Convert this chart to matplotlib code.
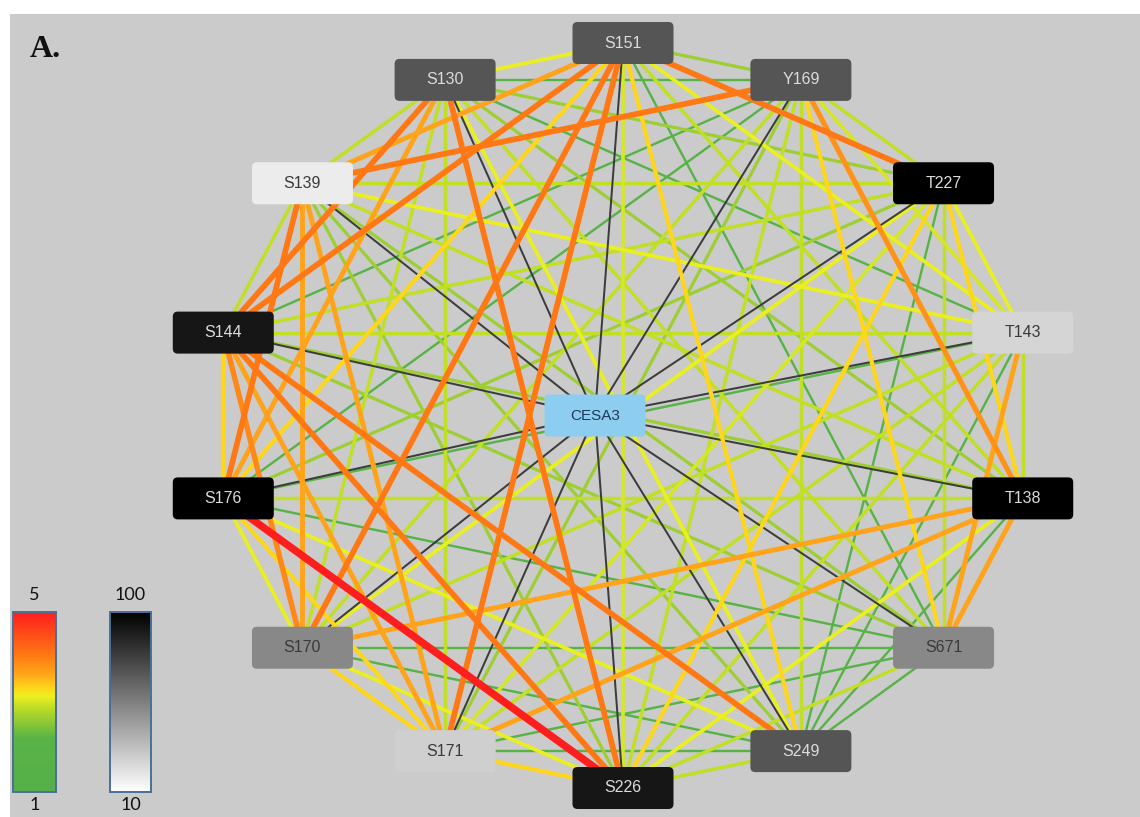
import numpy as np
import matplotlib
matplotlib.use('Agg')
import matplotlib.pyplot as plt
from matplotlib.colors import LinearSegmentedColormap
from matplotlib.patches import FancyBboxPatch, Rectangle

# ring nodes, clockwise from the top
NODES = ['S151', 'Y169', 'T227', 'T143', 'T138', 'S671', 'S249',
         'S226', 'S171', 'S170', 'S176', 'S144', 'S139', 'S130']
# node shade on the 10..100 scale
NODE_VAL = [70, 70, 100, 25, 100, 52, 70, 92, 27, 52, 100, 92, 17, 70]
HUB = 'CESA3'

# edge weights on the 1..5 scale
EDGES = [
    ('S151', 'Y169', 2.65), ('S151', 'T227', 4.05), ('S151', 'T143', 3.1),
    ('S151', 'T138', 2.9), ('S151', 'S671', 1.8), ('S151', 'S249', 3.3),
    ('S151', 'S226', 3.0), ('S151', 'S171', 4.05), ('S151', 'S170', 4.05),
    ('S151', 'S176', 3.3), ('S151', 'S144', 4.05), ('S151', 'S139', 3.65),
    ('S151', 'S130', 3.1),
    ('Y169', 'T227', 2.9), ('Y169', 'T143', 3.0), ('Y169', 'T138', 3.8),
    ('Y169', 'S671', 3.3), ('Y169', 'S249', 2.9), ('Y169', 'S226', 2.9),
    ('Y169', 'S171', 2.65), ('Y169', 'S170', 2.9), ('Y169', 'S176', 1.8),
    ('Y169', 'S144', 1.8), ('Y169', 'S139', 4.05), ('Y169', 'S130', 1.8),
    ('T227', 'T143', 3.1), ('T227', 'T138', 3.3), ('T227', 'S671', 2.9),
    ('T227', 'S249', 1.8), ('T227', 'S226', 3.3), ('T227', 'S171', 3.0),
    ('T227', 'S170', 3.1), ('T227', 'S176', 2.65), ('T227', 'S144', 2.9),
    ('T227', 'S139', 2.9), ('T227', 'S130', 2.65),
    ('T143', 'T138', 2.9), ('T143', 'S671', 3.65), ('T143', 'S249', 1.8),
    ('T143', 'S226', 2.9), ('T143', 'S171', 2.9), ('T143', 'S170', 2.9),
    ('T143', 'S176', 1.8), ('T143', 'S144', 2.9), ('T143', 'S139', 3.1),
    ('T143', 'S130', 1.8),
    ('T138', 'S671', 3.65), ('T138', 'S249', 1.8), ('T138', 'S226', 3.1),
    ('T138', 'S171', 3.65), ('T138', 'S170', 3.65), ('T138', 'S176', 2.9),
    ('T138', 'S144', 2.65), ('T138', 'S139', 2.9), ('T138', 'S130', 2.65),
    ('S671', 'S249', 1.8), ('S671', 'S226', 2.9), ('S671', 'S171', 1.8),
    ('S671', 'S170', 1.8), ('S671', 'S176', 1.8), ('S671', 'S144', 2.65),
    ('S671', 'S139', 2.65), ('S671', 'S130', 2.9),
    ('S249', 'S226', 2.9), ('S249', 'S171', 1.8), ('S249', 'S170', 1.8),
    ('S249', 'S176', 3.1), ('S249', 'S144', 4.05), ('S249', 'S139', 2.65),
    ('S249', 'S130', 3.1),
    ('S226', 'S171', 3.3), ('S226', 'S170', 3.1), ('S226', 'S176', 5.0),
    ('S226', 'S144', 4.05), ('S226', 'S139', 2.65), ('S226', 'S130', 4.05),
    ('S171', 'S170', 3.3), ('S171', 'S176', 3.3), ('S171', 'S144', 3.65),
    ('S171', 'S139', 3.65), ('S171', 'S130', 2.9),
    ('S170', 'S176', 3.1), ('S170', 'S144', 3.9), ('S170', 'S139', 3.65),
    ('S170', 'S130', 2.9),
    ('S176', 'S144', 3.3), ('S176', 'S139', 4.05), ('S176', 'S130', 3.65),
    ('S144', 'S139', 2.9), ('S144', 'S130', 4.05),
    ('S139', 'S130', 2.9),
]

EDGE_RANGE = (1, 5)
SHADE_RANGE = (10, 100)

edge_cmap = LinearSegmentedColormap.from_list('edge', [
    (0.00, '#55b04a'), (0.30, '#5ab446'), (0.42, '#a2d030'),
    (0.48, '#c4e024'), (0.53, '#eef022'), (0.58, '#ffd41a'),
    (0.66, '#ffa41a'), (0.76, '#ff7a14'), (1.00, '#ff1e1e')])
shade_cmap = LinearSegmentedColormap.from_list('shade', ['#ffffff', '#000000'])

W, H = 1140, 817
PX = 72 / 100  # points per pixel at dpi 100

fig = plt.figure(figsize=(W / 100, H / 100), dpi=100)
ax = fig.add_axes([0, 0, 1, 1])
ax.set_xlim(0, W)
ax.set_ylim(H, 0)
ax.axis('off')
ax.add_patch(Rectangle((10, 14), W - 10, H - 14, facecolor='#cbcbcb',
                       edgecolor='none', zorder=0))

# elliptical ring layout
cx, cy, rx, ry = 623, 415.5, 410, 372.5
ang = np.pi / 2 - np.arange(len(NODES)) * 2 * np.pi / len(NODES)
pos = {n: (cx + rx * np.cos(a), cy - ry * np.sin(a)) for n, a in zip(NODES, ang)}
hub_xy = (cx - 28, cy)


def edge_width(v):
    return np.interp(v, [1, 2, 3, 4, 5], [2.0, 2.5, 3.6, 5.6, 7.5]) * PX


def norm(v, lo_hi):
    lo, hi = lo_hi
    return (v - lo) / (hi - lo)


for a, b, v in sorted(EDGES, key=lambda e: e[2]):
    (x0, y0), (x1, y1) = pos[a], pos[b]
    ax.plot([x0, x1], [y0, y1], color=edge_cmap(norm(v, EDGE_RANGE)),
            lw=edge_width(v), solid_capstyle='butt', zorder=2 + v / 10)

for n in NODES:
    x, y = pos[n]
    ax.plot([hub_xy[0], x], [hub_xy[1], y], color='#3c3c3c', lw=2.0 * PX,
            zorder=2.31)

bw, bh = 101, 42
for n, v in zip(NODES, NODE_VAL):
    x, y = pos[n]
    ax.add_patch(FancyBboxPatch((x - bw / 2, y - bh / 2), bw, bh,
                                boxstyle='round,pad=0,rounding_size=5',
                                facecolor=shade_cmap(norm(v, SHADE_RANGE)),
                                edgecolor='none', zorder=5))
    ax.text(x, y, n, ha='center', va='center', fontsize=11.5,
            family='Liberation Sans',
            color='#dcdcdc' if v >= 60 else '#3a3a3a', zorder=6)

ax.add_patch(FancyBboxPatch((hub_xy[0] - bw / 2, hub_xy[1] - bh / 2), bw, bh,
                            boxstyle='round,pad=0,rounding_size=4',
                            facecolor='#8ccdf0', edgecolor='none', zorder=5))
ax.text(hub_xy[0], hub_xy[1], HUB, ha='center', va='center', fontsize=11,
        family='Liberation Sans', color='#1d3a58', zorder=6)

# colour keys
grad = np.linspace(1, 0, 256).reshape(-1, 1)
for (x0, x1), cmap, (top, bot) in [((13, 56), edge_cmap, EDGE_RANGE[::-1]),
                                   ((110, 151), shade_cmap, SHADE_RANGE[::-1])]:
    ax.imshow(grad, cmap=cmap, aspect='auto', extent=[x0, x1, 792, 612],
              zorder=3, interpolation='bilinear')
    ax.add_patch(Rectangle((x0, 612), x1 - x0, 180, facecolor='none',
                           edgecolor='#4a6f98', lw=1.4, zorder=4))
    xm = (x0 + x1) / 2
    ax.text(xm, 603, str(top), ha='center', va='bottom', fontsize=13,
            family='Lato', color='#111111')
    ax.text(xm, 797, str(bot), ha='center', va='top', fontsize=13,
            family='Lato', color='#111111')

ax.text(30, 57, 'A.', ha='left', va='baseline', fontsize=23,
        family='Liberation Serif', fontweight='bold', color='#111111')

ax.set_xlim(0, W)
ax.set_ylim(H, 0)
fig.savefig('out.png', dpi=100)
